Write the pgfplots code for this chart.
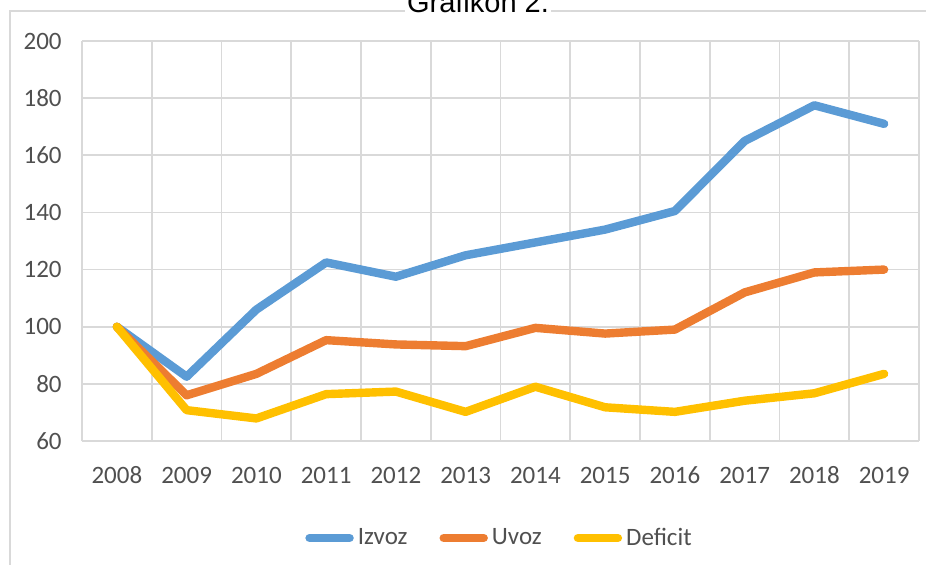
\documentclass[border=0pt]{standalone}
\usepackage{fontspec}
\setmainfont{Carlito}
\newfontfamily\titlefont{Liberation Sans}
\usepackage{pgfplots}
\pgfplotsset{compat=1.18}

\definecolor{izvoz}{HTML}{5B9BD5}
\definecolor{uvoz}{HTML}{ED7D31}
\definecolor{deficit}{HTML}{FFC000}
\definecolor{txt}{HTML}{505050}
\definecolor{gridc}{HTML}{D9D9D9}

\begin{document}
\begin{tikzpicture}
\useasboundingbox (0pt,0pt) rectangle (463pt,282pt);
\clip (0pt,0pt) rectangle (463pt,282pt);

% chart frame and title (cut at the top, as in the source)
\draw[gridc, line width=0.8pt] (5pt,-10pt) -- (5pt,276.5pt) -- (480pt,276.5pt);
\node[font=\titlefont\fontsize{14.5}{16}\selectfont, anchor=base, fill=white, inner sep=1pt] at (239pt,276pt) {Grafikon 2.};

\begin{axis}[
    at={(41pt,61.5pt)}, anchor=south west,
    scale only axis,
    width=418.5pt, height=200pt,
    xmin=-0.5, xmax=11.5,
    ymin=60, ymax=200,
    xtick={0,...,11},
    xticklabels={2008,2009,2010,2011,2012,2013,2014,2015,2016,2017,2018,2019},
    minor xtick={-0.5,0.5,...,11.5},
    ytick={60,80,...,200},
    xminorgrids=true,
    ymajorgrids=true,
    grid style={gridc, line width=0.9pt},
    minor grid style={gridc, line width=0.9pt},
    axis line style={draw=none},
    major tick length=0pt, minor tick length=0pt,
    /pgf/number format/assume math mode=true,
    ticklabel style={font=\fontsize{12.5}{14}\selectfont, text=txt},
    xticklabel style={anchor=center, yshift=-17pt},
    yticklabel style={anchor=east, inner sep=0pt, xshift=-10pt},
    legend style={draw=none, at={(0.5,-0.2425)}, anchor=center,
        legend columns=3, font=\fontsize{12.5}{14}\selectfont, text=txt,
        /tikz/every even column/.append style={column sep=14pt}},
    legend image code/.code={\draw[#1, line cap=round] (0pt,0pt) -- (20pt,0pt);},
    every axis plot/.append style={line width=4.2pt, line join=round, line cap=round},
]
\addplot[color=izvoz] coordinates {
    (0,100)(1,82.5)(2,106)(3,122.5)(4,117.5)(5,125)(6,129.5)(7,134)(8,140.5)(9,165)(10,177.5)(11,171)
};
\addlegendentry{Izvoz}
\addplot[color=uvoz] coordinates {
    (0,100)(1,76)(2,83.5)(3,95.3)(4,93.8)(5,93.2)(6,99.6)(7,97.6)(8,99)(9,112)(10,119)(11,120)
};
\addlegendentry{Uvoz}
\addplot[color=deficit] coordinates {
    (0,100)(1,70.8)(2,67.9)(3,76.4)(4,77.3)(5,70.2)(6,79)(7,71.8)(8,70.2)(9,74.1)(10,76.7)(11,83.5)
};
\addlegendentry{Deficit}
\end{axis}
\end{tikzpicture}
\end{document}
